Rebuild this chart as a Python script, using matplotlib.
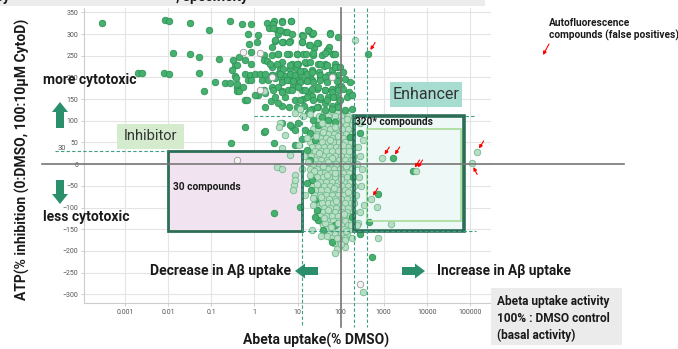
import matplotlib
matplotlib.use('Agg')
from matplotlib import pyplot as plt
from matplotlib import patches
from matplotlib.ticker import NullLocator

plt.rcParams['font.family'] = ['Roboto', 'DejaVu Sans']

#%% Data
# x is stored as log10(Abeta uptake, % DMSO), y is ATP % inhibition
solid_pts = [
    (-3.55, 325), (-2.08, 332), (-1.99, 329), (-1.50, 325), (-1.06, 309), (-0.58, 330),
    (-1.90, 256), (-1.50, 253), (-1.30, 246), (-0.83, 242), (-2.71, 210), (-2.62, 210),
    (-2.10, 210), (-1.99, 207), (-1.29, 210), (-1.18, 168), (-0.55, 48), (-0.23, 85),
    (-0.92, 189), (-0.69, 187), (-0.58, 187), (-0.41, 175), (-0.46, 228), (-0.46, 203),
    (-0.41, 184), (-0.53, 217), (-0.23, 147), (0.45, -113),
    (-0.28, 323), (-0.07, 324), (0.28, 326), (0.46, 330), (0.63, 330), (0.85, 330),
    (0.34, 313), (0.52, 310), (0.71, 305), (0.55, 301), (-0.16, 300), (0.07, 297),
    (-0.13, 278), (0.05, 282), (0.48, 284), (0.67, 282), (0.82, 284), (1.10, 297),
    (1.27, 307), (1.33, 301), (1.75, 303), (1.93, 293), (1.10, 282), (1.48, 280),
    (1.27, 274), (1.39, 267), (1.68, 263), (1.73, 270), (-0.07, 259), (0.21, 251),
    (0.40, 251), (0.55, 255), (0.79, 255), (0.98, 255), (1.13, 254), (1.37, 251),
    (1.56, 251), (1.83, 255), (-0.36, 247), (-0.49, 241), (-0.22, 240), (0.21, 240),
    (0.28, 238), (0.63, 236), (0.86, 232), (1.02, 230), (1.19, 234), (1.48, 232),
    (1.64, 232), (1.87, 230), (-0.41, 228), (-0.07, 232), (0.40, 224), (0.59, 220),
    (0.82, 220), (0.98, 220), (1.16, 215), (1.33, 217), (1.62, 226), (1.79, 217),
    (1.95, 224), (-0.22, 207), (-0.10, 205), (0.01, 207), (0.13, 209), (0.24, 207),
    (0.40, 205), (0.55, 209), (0.71, 203), (0.90, 203), (1.06, 207), (1.29, 205),
    (1.50, 213), (1.71, 205), (1.95, 205), (-0.44, 198), (-0.14, 195), (-0.07, 194),
    (0.17, 195), (0.32, 194), (0.48, 198), (0.63, 194), (0.79, 195), (0.98, 194),
    (1.13, 195), (1.33, 194), (1.52, 198), (1.95, 194), (-0.41, 169), (-0.37, 169),
    (-0.26, 177), (0.21, 171), (0.09, 159), (0.24, 163), (0.40, 177), (0.55, 177),
    (0.63, 169), (0.77, 172), (0.90, 180), (1.10, 171), (1.25, 167), (1.44, 174),
    (1.64, 171), (1.79, 174), (1.93, 177), (2.02, 180), (-0.18, 148), (0.01, 159),
    (0.38, 146), (0.48, 154), (0.71, 155), (0.94, 149), (1.13, 151), (1.33, 157),
    (1.52, 151), (1.70, 155), (1.91, 155), (0.24, 132), (0.63, 134), (0.98, 131),
    (1.16, 134), (1.33, 128), (1.48, 132), (1.64, 140), (1.79, 134), (1.95, 138),
    (0.21, 75), (0.24, 77), (0.46, 48), (0.63, 94), (0.86, 86), (0.93, 44), (1.02, 94),
    (0.82, 90), (1.25, 117), (1.37, 101), (1.48, 90), (1.56, 109), (1.71, 101),
    (1.87, 98), (1.17, 78), (1.29, 71), (1.40, 55), (0.94, 78), (1.10, 59), (1.21, 32),
    (1.29, 9), (1.33, -37), (1.31, -60), (1.40, -83), (1.44, -106), (1.48, -129),
    (1.60, -152), (2.22, 63), (2.29, -29), (2.26, -121), (1.05, -99), (1.21, -44),
    (1.40, -122), (1.86, -141), (2.44, -161), (2.72, -214), (2.44, 71), (2.65, -134),
    (2.86, -69), (1.79, -179), (2.64, 255), (3.21, 14), (3.67, -16),
    # denser part of the toxic cluster, just left of 100 %
    (0.44, 324), (0.65, 328), (0.84, 330), (0.42, 315), (0.59, 309), (0.75, 305),
    (0.86, 301), (1.12, 295), (1.25, 309), (1.37, 303), (1.75, 301), (0.48, 287),
    (0.63, 282), (0.81, 282), (1.10, 282), (1.29, 274), (1.44, 280), (1.71, 261),
    (1.83, 255), (0.40, 269), (0.55, 255), (0.75, 255), (0.99, 255), (1.20, 253),
    (1.37, 257), (1.64, 257), (1.87, 255), (0.36, 232), (0.52, 232), (0.67, 220),
    (0.82, 228), (0.98, 232), (1.17, 236), (1.29, 236), (1.52, 232), (1.68, 228),
    (1.87, 224), (1.98, 223), (0.40, 205), (0.59, 209), (0.82, 209), (0.94, 205),
    (1.06, 215), (1.21, 209), (1.33, 213), (1.52, 205), (1.64, 201), (1.83, 205),
    (2.06, 213), (0.63, 190), (0.75, 194), (0.90, 192), (1.06, 190), (1.21, 192),
    (1.37, 190), (1.52, 194), (1.68, 190), (1.91, 192), (2.10, 197), (2.22, 190),
    (0.44, 171), (0.63, 167), (0.86, 171), (1.02, 177), (1.17, 171), (1.33, 174),
    (1.48, 177), (1.64, 172), (1.79, 167), (1.95, 171), (2.06, 174), (2.20, 167),
    (0.55, 140), (0.79, 132), (1.06, 149), (1.21, 155), (1.37, 147), (1.52, 154),
    (1.68, 147), (1.83, 154), (1.98, 149), (2.14, 154), (2.26, 159), (1.06, 128),
    (1.29, 124), (1.44, 132), (1.64, 124), (1.79, 128), (1.95, 132), (2.10, 124),
    (2.26, 128),
]

# pale compounds: dense core around 100 %, one row per ATP level
pale_rows = {
    120: [1.62, 1.78, 1.95, 2.10],
    110: [1.50, 1.70, 1.88, 2.02, 2.18],
    100: [1.45, 1.60, 1.74, 1.90, 2.05, 2.20],
    90: [1.40, 1.55, 1.68, 1.82, 1.96, 2.12, 2.26],
    80: [1.35, 1.48, 1.62, 1.76, 1.90, 2.03, 2.17],
    70: [1.30, 1.44, 1.57, 1.70, 1.84, 1.98, 2.12, 2.27],
    60: [1.38, 1.52, 1.65, 1.79, 1.93, 2.06, 2.20],
    50: [1.28, 1.42, 1.56, 1.70, 1.83, 1.97, 2.11, 2.25],
    40: [1.34, 1.48, 1.61, 1.75, 1.89, 2.02, 2.16, 2.30],
    30: [1.25, 1.40, 1.54, 1.67, 1.81, 1.95, 2.08, 2.22],
    20: [1.32, 1.46, 1.60, 1.73, 1.87, 2.00, 2.14, 2.28],
    10: [1.27, 1.41, 1.55, 1.69, 1.82, 1.96, 2.10, 2.24],
    0: [1.35, 1.49, 1.62, 1.76, 1.90, 2.04, 2.17, 2.31],
    -10: [1.30, 1.44, 1.58, 1.71, 1.85, 1.98, 2.12, 2.26],
    -20: [1.37, 1.51, 1.64, 1.78, 1.92, 2.06, 2.19],
    -30: [1.32, 1.46, 1.60, 1.73, 1.87, 2.01, 2.15, 2.29],
    -40: [1.39, 1.53, 1.67, 1.80, 1.94, 2.08, 2.22],
    -50: [1.34, 1.48, 1.62, 1.76, 1.90, 2.03, 2.17, 2.30],
    -60: [1.41, 1.55, 1.69, 1.83, 1.97, 2.11, 2.25],
    -70: [1.38, 1.52, 1.66, 1.79, 1.93, 2.07, 2.21],
    -80: [1.45, 1.59, 1.72, 1.86, 2.00, 2.14, 2.28],
    -90: [1.42, 1.56, 1.70, 1.83, 1.97, 2.11, 2.24],
    -100: [1.48, 1.62, 1.76, 1.90, 2.04, 2.18],
    -110: [1.45, 1.59, 1.73, 1.87, 2.01, 2.15, 2.29],
    -120: [1.52, 1.66, 1.80, 1.94, 2.08, 2.22],
    -130: [1.55, 1.69, 1.83, 1.97, 2.11, 2.25],
    -140: [1.60, 1.74, 1.88, 2.02, 2.16],
    -150: [1.66, 1.80, 1.94, 2.08, 2.22],
    -160: [1.72, 1.86, 2.00, 2.14],
    -170: [1.78, 1.95, 2.10],
    -182: [1.85, 2.05],
    -195: [1.92],
}

pale_pts = [
    (2.33, 287), (0.71, 67), (0.59, 95), (0.58, 85), (0.52, -7), (0.65, -12),
    (0.93, -25), (0.91, -48), (0.95, -37), (0.90, -60), (0.82, 21), (0.63, 37),
    (1.03, 44), (0.93, 117), (0.21, 168), (1.15, 20), (1.10, -10), (1.18, -70),
    (1.12, 110), (1.05, 128), (2.40, 40), (2.45, 20), (2.38, 0), (2.50, -10),
    (2.42, -30), (2.48, -50), (2.36, -70), (2.55, -95), (2.45, -110), (2.40, -135),
    (2.53, 55), (2.37, -141), (2.44, 95), (2.86, -171), (3.16, -138), (2.84, -99),
    (2.70, -81), (2.97, 14), (3.74, -16), (5.16, 28), (5.04, 2), (2.53, -295),
    (1.91, -171), (2.07, -182), (2.09, -191), (2.26, -171), (1.37, -78), (1.63, -136),
    (2.09, -175), (1.33, -152), (1.55, -165),
    # between the rows of the core
    (1.30, 115), (1.56, 95), (1.86, 85), (2.15, 105), (1.42, 65), (1.75, 55),
    (2.05, 45), (1.50, 25), (1.80, 15), (2.12, -5), (1.38, -15), (1.68, -25),
    (2.02, -35), (1.45, -45), (1.85, -55), (2.18, -65), (1.55, -75), (1.90, -85),
    (1.35, -95), (1.70, -105), (2.08, -115), (1.62, -125), (1.95, -135), (1.78, -145),
    (2.12, -155), (1.68, -165), (2.00, -185), (1.88, -205), (1.25, 5), (1.28, -25),
    (1.22, 60), (2.28, 10), (2.30, -90), (2.25, -140), (1.60, 75), (1.95, 65),
    (2.20, 30), (1.58, -5), (1.88, -20), (1.70, 5),
]

hollow_pts = [(-0.41, 9), (-0.26, 258), (0.13, 257), (0.13, 171), (1.79, 200),
              (0.40, 200), (2.44, -276)]

# autofluorescent compounds marked with red arrows (x log10, y, arrow tail offset in pt)
flagged = [(2.64, 255, (5, 8)), (2.97, 14, (5, 8)), (3.21, 14, (5, 8)),
           (3.67, -16, (5, 8)), (3.74, -16, (5, 8)), (2.70, -81, (5, 8)),
           (5.16, 28, (5, 8)), (5.04, 2, (4, -8))]

# hit windows
inh_x, inh_y = (0.01, 13), (-155, 30)
enh_x, enh_y = (200, 72000), (-155, 110)
core_x, core_y = (400, 62000), (-130, 80)

x_ticks = [0.001, 0.01, 0.1, 1, 10, 100, 1000, 10000, 100000]
x_labels = ['0.001', '0.01', '0.1', '1', '10', '100', '1000', '10000', '100000']
y_ticks = list(range(-300, 351, 50))


def unlog(pts):
    return [10 ** p[0] for p in pts], [p[1] for p in pts]


pale_row_pts = [(lx, y) for y, row in pale_rows.items() for lx in row]

#%% Figure
fig = plt.figure(figsize=(6.78, 3.49), dpi=100)
ax = fig.add_axes([84 / 678, 46 / 349, 407 / 678, 295 / 349])
ax.set_xscale('log')
ax.set_xlim(1.1e-4, 3.1e5)
ax.set_ylim(-320, 360)
ax.set_xticks(x_ticks)
ax.set_xticklabels(x_labels)
ax.xaxis.set_minor_locator(NullLocator())
ax.set_yticks(y_ticks)
ax.tick_params(labelsize=5, labelcolor='#555555', color='#bbbbbb', length=2, width=0.5, pad=2)
ax.grid(True, color='#e4e4e4', lw=0.8)
ax.set_axisbelow(True)
for side in ['top', 'right']:
    ax.spines[side].set_visible(False)
for side in ['left', 'bottom']:
    ax.spines[side].set_color('#cccccc')
    ax.spines[side].set_linewidth(0.8)

# boxes: fill under the points, frame above
def box(xr, yr, fc, ec, lw):
    if fc is not None:
        ax.add_patch(patches.Rectangle((xr[0], yr[0]), xr[1] - xr[0], yr[1] - yr[0],
                                       facecolor=fc, edgecolor='none', zorder=1))
    ax.add_patch(patches.Rectangle((xr[0], yr[0]), xr[1] - xr[0], yr[1] - yr[0],
                                   fill=False, edgecolor=ec, lw=lw, zorder=4))

box(inh_x, inh_y, '#f1e3f0', '#2c6e55', 2.0)
box(enh_x, enh_y, '#eef8f7', '#2c6e55', 2.6)
box(core_x, core_y, None, '#a8dc97', 1.2)

dash = dict(ls=(0, (3, 2)), color='#3a9f86', lw=0.8)
ax.plot([1, 1.4e5], [enh_y[1], enh_y[1]], zorder=1.5, **dash)
ax.plot([inh_x[1], 1.4e5], [enh_y[0], enh_y[0]], zorder=5, **dash)
ax.plot([2.3e-5, inh_x[0]], [inh_y[1], inh_y[1]], zorder=5, clip_on=False, **dash)
ax.plot([inh_x[1], inh_x[1]], [enh_y[1], -376], zorder=5, clip_on=False, **dash)
for xv in [enh_x[0], core_x[0]]:
    ax.plot([xv, xv], [360, -376], zorder=5, clip_on=False, **dash)

ax.plot([1.15e-5, 3.7e8], [0, 0], color='#777777', lw=1.2, zorder=5, clip_on=False)
ax.plot([100, 100], [360, -376], color='#777777', lw=1.2, zorder=5, clip_on=False)

# scatter
px, py = unlog(pale_row_pts)
ax.scatter(px, py, s=22, c='#b8dfc5', edgecolors='#6fbb8c', linewidths=0.6, zorder=2)
sx, sy = unlog(solid_pts)
ax.scatter(sx, sy, s=22, c='#46b06e', edgecolors='#2f9458', linewidths=0.6, zorder=3)
qx, qy = unlog(pale_pts)
ax.scatter(qx, qy, s=22, c='#b8dfc5', edgecolors='#6fbb8c', linewidths=0.6, zorder=3)
hx, hy = unlog(hollow_pts)
ax.scatter(hx, hy, s=22, c='#f4f4f4', edgecolors='#9a9a9a', linewidths=0.6, zorder=3)

for lx, y, off in flagged:
    ax.annotate('', xy=(10 ** lx, y), xytext=off, textcoords='offset points',
                arrowprops=dict(arrowstyle='-|>', color='red', lw=0.8, mutation_scale=5,
                                shrinkA=0, shrinkB=3), zorder=6, annotation_clip=False)

#%% Annotation layer in pixel coordinates
ov = fig.add_axes([0, 0, 1, 1], zorder=10)
ov.set_xlim(0, 678)
ov.set_ylim(349, 0)
ov.axis('off')
ov.patch.set_alpha(0)

bold = dict(fontweight='bold', color='#1a1a1a')
ov.add_patch(patches.Rectangle((0, 0), 485, 6, facecolor='#ececec', edgecolor='none'))
ov.text(10, 0.5, 'Efficacy', ha='right', va='baseline', fontsize=10, **bold)
ov.text(176, 0.5, ', specificity', ha='left', va='baseline', fontsize=10, **bold)

green = '#2b8f6c'
ov.add_patch(patches.FancyArrow(60, 128, 0, -26, width=8, head_width=16, head_length=10,
                                length_includes_head=True, color=green, lw=0))
ov.add_patch(patches.FancyArrow(60, 180, 0, 24, width=8, head_width=16, head_length=10,
                                length_includes_head=True, color=green, lw=0))
ov.add_patch(patches.FancyArrow(318, 271, -23, 0, width=8, head_width=15, head_length=10,
                                length_includes_head=True, color=green, lw=0))
ov.add_patch(patches.FancyArrow(402, 271, 23, 0, width=8, head_width=15, head_length=10,
                                length_includes_head=True, color=green, lw=0))

ov.text(43, 80, 'more cytotoxic', ha='left', va='center', fontsize=10, **bold)
ov.text(43, 217, 'less cytotoxic', ha='left', va='center', fontsize=10, **bold)
ov.text(150, 271, 'Decrease in A\u03b2 uptake', ha='left', va='center', fontsize=10, **bold)
ov.text(437, 271, 'Increase in A\u03b2 uptake', ha='left', va='center', fontsize=9.8, **bold)
ov.text(355, 122, '320* compounds', ha='left', va='center', fontsize=7.3, **bold)
ov.text(173, 187, '30 compounds', ha='left', va='center', fontsize=7.3, **bold)
ov.text(549, 23, 'Autofluorescence', ha='left', va='center', fontsize=7.3, **bold)
ov.text(549, 35, 'compounds (false positives)', ha='left', va='center', fontsize=7.3, **bold)
ov.annotate('', xy=(543, 55), xytext=(549, 44),
            arrowprops=dict(arrowstyle='-|>', color='red', lw=0.8, mutation_scale=5,
                            shrinkA=0, shrinkB=0))

ov.add_patch(patches.Rectangle((117, 124), 67, 25, facecolor='#d4ebcd', edgecolor='none'))
ov.text(150.5, 136.5, 'Inhibitor', ha='center', va='center', fontsize=10.5, color='#333333')
ov.add_patch(patches.Rectangle((390, 82), 72, 25, facecolor='#a7dcd1', edgecolor='none'))
ov.text(426, 94.5, 'Enhancer', ha='center', va='center', fontsize=11.5, color='#333333')

ov.add_patch(patches.Rectangle((491, 288), 131, 57, facecolor='#ebebeb', edgecolor='none'))
for i, line in enumerate(['Abeta uptake activity', '100% : DMSO control', '(basal activity)']):
    ov.text(497, 301 + 17 * i, line, ha='left', va='center', fontsize=8.6, **bold)

ov.text(62, 148, '30', ha='center', va='center', fontsize=5.5, color='#555555')
ov.text(22, 159, 'ATP(% inhibition (0:DMSO, 100:10\u03bcM CytoD)', rotation=90,
        ha='center', va='center', fontsize=10, **bold)
ov.text(316, 340, 'Abeta uptake(% DMSO)', ha='center', va='center', fontsize=10, **bold)

fig.savefig('out.png', dpi=100)
